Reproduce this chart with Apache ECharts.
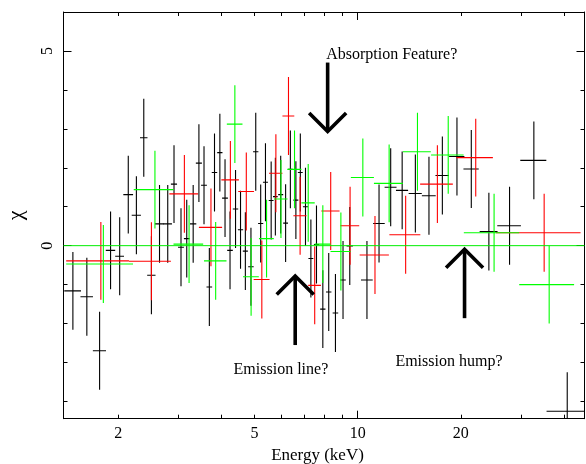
<!DOCTYPE html>
<html><head><meta charset="utf-8">
<script src="https://cdn.jsdelivr.net/npm/echarts@6/dist/echarts.min.js"></script>
<style>html,body{margin:0;padding:0;background:#fff}#c{width:586px;height:464px}</style>
</head><body><div id="c"></div>
<script>
// ---- Data (energy in keV, bin half-width in keV, residual in sigma) ----
const blackE   = [1.475,1.62,1.765,1.90,2.02,2.14,2.26,2.375,2.50,2.64,2.79,2.91,3.05,3.17,3.31,3.44,3.56,3.69,3.82,3.96,4.10,4.24,4.40,4.55,4.70,4.88,5.04,5.21,5.38,5.59,5.75,5.96,6.16,6.36,6.60,6.80,7.04,7.30,7.58,7.91,8.23,8.61,9.06,9.48,10.64,11.54,12.48,13.48,14.73,16.14,17.66,19.48,21.45,24.14,27.74,32.66,40.87];
const blackDE  = [0.083,0.068,0.078,0.06,0.06,0.07,0.07,0.06,0.07,0.08,0.08,0.06,0.06,0.06,0.07,0.07,0.07,0.07,0.07,0.07,0.08,0.08,0.08,0.08,0.08,0.09,0.09,0.09,0.09,0.09,0.09,0.10,0.10,0.10,0.11,0.11,0.12,0.12,0.13,0.14,0.15,0.16,0.17,0.2,0.42,0.45,0.5,0.55,0.65,0.75,0.8,1.0,1.1,1.45,2.2,2.85,5.3];
const blackChi = [-1.16,-1.31,-2.70,-0.12,-0.27,1.31,0.78,2.77,-0.76,0.56,0.56,1.58,-0.04,0.18,0.56,2.12,1.55,-1.06,1.88,2.39,1.22,-0.12,0.94,0.41,-0.14,-0.54,2.41,0.57,1.63,1.16,1.26,1.31,0.58,1.96,1.17,1.88,1.00,-0.33,0.03,-1.63,-1.19,-1.73,-0.88,-0.01,-0.88,0.57,1.50,1.42,1.34,1.28,1.80,2.29,1.97,0.36,0.51,2.19,-4.25];

const redE   = [1.78,2.50,3.12,3.73,4.25,4.73,5.25,5.77,6.28,6.79,7.49,8.34,9.50,11.23,13.80,17.08,22.1,35.0];
const redDE  = [0.37,0.35,0.30,0.29,0.25,0.25,0.28,0.26,0.25,0.30,0.32,0.51,0.6,1.1,1.43,1.87,2.7,9.7];
const redChi = [-0.39,-0.40,1.33,0.47,1.69,1.39,-0.87,1.86,3.33,0.77,-1.02,0.89,0.51,-0.24,0.28,1.58,2.26,0.33];

const greenE   = [1.81,2.56,3.22,3.85,4.38,4.885,5.42,5.97,6.54,7.17,7.91,8.93,10.35,12.35,14.94,18.37,25.0,36.2];
const greenDE  = [0.40,0.34,0.32,0.29,0.23,0.26,0.27,0.27,0.31,0.32,0.42,0.6,0.8,1.2,1.4,2.0,4.6,6.6];
const greenChi = [-0.47,1.44,0.04,-0.39,3.12,-0.80,0.18,1.20,1.96,1.10,0.04,-0.15,1.75,1.60,2.41,2.33,0.33,-1.00];

// model (zero-residual) line
const modelE   = [1.385, 45.9];
const modelChi = [0, 0];

const CHI_ERR = 1; // residual error bars are +/-1 sigma

const xMajorTicks = [10];
const xMinorTicks = [2,3,4,5,6,7,8,9,20,30,40];
const xLabels     = [2,5,10,20];
const yMajorTicks = [0,5];
const yMinorTicks = [-4,-3,-2,-1,1,2,3,4];

// annotation arrows: tip position (keV, chi) and direction
const arrowE   = [8.17, 6.57, 20.5];
const arrowChi = [2.93, -0.78, -0.09];
const arrowDir = [-1, 1, 1]; // -1 = pointing down, 1 = pointing up

// ---- Chart ----
const L = Math.log10;
const X_MIN = 0.1414, X_MAX = 1.6618;
const Y_MIN = -4.443, Y_MAX = 6.0;
const FONT = '"Liberation Serif", "Times New Roman", serif';

const chart = echarts.init(document.getElementById('c'), null, {renderer: 'canvas'});

function errorSeries(E, dE, chi, color, extra) {
  return Object.assign({
    type: 'custom',
    xAxisIndex: 0, yAxisIndex: 0,
    clip: true,
    silent: true,
    data: E.map((e, i) => [L(e), chi[i], L(e - dE[i]), L(e + dE[i])]),
    encode: {x: 0, y: 1},
    renderItem: function (params, api) {
      const x = api.value(0), y = api.value(1);
      const pL = api.coord([api.value(2), y]);
      const pR = api.coord([api.value(3), y]);
      const pT = api.coord([x, y + CHI_ERR]);
      const pB = api.coord([x, y - CHI_ERR]);
      return {type: 'group', children: [
        {type: 'line', shape: {x1: pL[0], y1: pL[1], x2: pR[0], y2: pR[1]}, style: {stroke: color, lineWidth: 1.1}},
        {type: 'line', shape: {x1: pT[0], y1: pT[1], x2: pB[0], y2: pB[1]}, style: {stroke: color, lineWidth: 1.1}}
      ]};
    }
  }, extra || {});
}

function tickAxis(pos, vals, len, showLine, labelOpt, extra) {
  const isX = pos === 'bottom' || pos === 'top';
  return Object.assign({
    type: 'value', position: pos,
    min: isX ? X_MIN : Y_MIN, max: isX ? X_MAX : Y_MAX,
    axisLine: {show: showLine, onZero: false, lineStyle: {color: '#000', width: 1}},
    splitLine: {show: false},
    axisTick: {show: true, inside: true, length: len, customValues: vals, lineStyle: {color: '#000', width: 1}},
    axisLabel: labelOpt || {show: false}
  }, extra || {});
}

const option = {
  animation: false,
  backgroundColor: '#fff',
  grid: {left: 63.5, right: 1.5, top: 12, bottom: 45.3, containLabel: false, outerBoundsMode: 'none'},
  xAxis: [
    tickAxis('bottom', xMajorTicks.map(L), 8, true, {
      show: true, customValues: xLabels.map(L), margin: 7,
      formatter: v => String(Math.round(Math.pow(10, v))),
      color: '#000', fontFamily: FONT, fontSize: 16
    }, {
      name: 'Energy (keV)', nameLocation: 'middle', nameGap: 27,
      nameTextStyle: {color: '#000', fontFamily: FONT, fontSize: 17, padding: [0, 13, 0, 0]}
    }),
    tickAxis('bottom', xMinorTicks.map(L), 4, false),
    tickAxis('top', xMajorTicks.map(L), 8, true),
    tickAxis('top', xMinorTicks.map(L), 4, false)
  ],
  yAxis: [
    tickAxis('left', yMajorTicks, 8, true, {
      show: true, customValues: yMajorTicks, rotate: 90, margin: 8,
      color: '#000', fontFamily: FONT, fontSize: 16
    }, {
      name: 'χ', nameLocation: 'middle', nameGap: 36, nameRotate: 90,
      nameTextStyle: {color: '#000', fontFamily: FONT, fontSize: 22}
    }),
    tickAxis('left', yMinorTicks, 4, false),
    tickAxis('right', yMajorTicks, 8, true),
    tickAxis('right', yMinorTicks, 4, false)
  ],
  series: [
    {
      type: 'line', xAxisIndex: 0, yAxisIndex: 0, silent: true, z: 5,
      data: modelE.map((e, i) => [L(e), modelChi[i]]),
      symbol: 'none', showSymbol: false,
      lineStyle: {color: '#00ee00', width: 1, opacity: 1},
      itemStyle: {color: '#00ee00'},
      emphasis: {disabled: true}
    },
    errorSeries(blackE, blackDE, blackChi, '#000000', {z: 2}),
    errorSeries(redE, redDE, redChi, '#ff0000', {z: 3}),
    errorSeries(greenE, greenDE, greenChi, '#00ff00', {z: 4}),
    {
      type: 'custom', xAxisIndex: 0, yAxisIndex: 0, silent: true, z: 10,
      data: arrowE.map((e, i) => [L(e), arrowChi[i], arrowDir[i]]),
      encode: {x: 0, y: 1},
      renderItem: function (params, api) {
        const p = api.coord([api.value(0), api.value(1)]);
        const d = api.value(2); // 1 up, -1 down
        const shaft = 69, wing = 18.5;
        const st = {stroke: '#000', lineWidth: 3.6, lineJoin: 'miter', fill: null};
        return {type: 'group', children: [
          {type: 'line', shape: {x1: p[0], y1: p[1] + d * 2, x2: p[0], y2: p[1] + d * shaft}, style: st},
          {type: 'polyline', shape: {points: [[p[0] - wing, p[1] + d * wing], [p[0], p[1]], [p[0] + wing, p[1] + d * wing]]}, style: st}
        ]};
      }
    }
  ],
  graphic: [
    {type: 'text', x: 326.2, y: 54.6, silent: true, style: {text: 'Absorption Feature?', font: '16px ' + FONT, fill: '#000', verticalAlign: 'middle', align: 'left'}},
    {type: 'text', x: 233.6, y: 370, silent: true, style: {text: 'Emission line?', font: '16px ' + FONT, fill: '#000', verticalAlign: 'middle', align: 'left'}},
    {type: 'text', x: 395.4, y: 361.5, silent: true, style: {text: 'Emission hump?', font: '16px ' + FONT, fill: '#000', verticalAlign: 'middle', align: 'left'}}
  ]
};
chart.setOption(option);
</script>
</body></html>
